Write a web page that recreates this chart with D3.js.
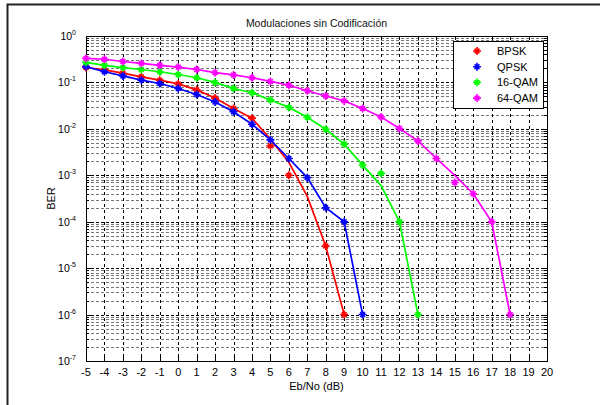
<!DOCTYPE html>
<html>
<head>
<meta charset="utf-8">
<script src="https://cdn.jsdelivr.net/npm/d3@7/dist/d3.min.js"></script>
<style>
  body { margin: 0; background: #fff; }
  svg { display: block; font-family: "Liberation Sans", Arial, Helvetica, sans-serif; }
</style>
</head>
<body>
<svg id="chart" width="600" height="405"></svg>
<script>
// Eb/No (dB) points and BER
const xBpsk = [-5, -4, -3, -2, -1, 0, 1, 2, 3, 4, 5, 6, 7, 8, 9];
const berBpskLine = [0.21, 0.186, 0.158, 0.132, 0.112, 0.093, 0.069, 0.046, 0.0275, 0.017, 0.006, 0.0019, 0.00035, 0.00003, 0.000001];
const xBpskSim = [-5, -4, -3, -2, -1, 0, 1, 2, 3, 4, 5, 6, 8, 9];
const berBpskSim = [0.21, 0.186, 0.158, 0.132, 0.112, 0.093, 0.069, 0.046, 0.0275, 0.017, 0.0043, 0.001, 0.00003, 0.000001];

const xQpsk = [-5, -4, -3, -2, -1, 0, 1, 2, 3, 4, 5, 6, 7, 8, 9, 10];
const berQpskLine = [0.219, 0.17, 0.138, 0.112, 0.095, 0.074, 0.055, 0.038, 0.0234, 0.0126, 0.0058, 0.0023, 0.00089, 0.0002, 0.0001, 0.000001];
const berQpskSim = [0.219, 0.17, 0.138, 0.112, 0.095, 0.074, 0.055, 0.038, 0.0234, 0.0126, 0.0058, 0.0023, 0.00089, 0.0002, 0.0001, 0.000001];

const xQam16 = [-5, -4, -3, -2, -1, 0, 1, 2, 3, 4, 5, 6, 7, 8, 9, 10, 11, 12, 13];
const berQam16Line = [0.27, 0.234, 0.209, 0.19, 0.17, 0.148, 0.126, 0.1, 0.074, 0.06, 0.042, 0.029, 0.0178, 0.0098, 0.0047, 0.00166, 0.0006, 0.0001, 0.000001];
const berQam16Sim = [0.27, 0.234, 0.209, 0.19, 0.17, 0.148, 0.126, 0.1, 0.074, 0.06, 0.042, 0.029, 0.0178, 0.0098, 0.0047, 0.00166, 0.0011, 0.0001, 0.000001];

const xQam64 = [-5, -4, -3, -2, -1, 0, 1, 2, 3, 4, 5, 6, 7, 8, 9, 10, 11, 12, 13, 14, 15, 16, 17, 18];
const berQam64Line = [0.33, 0.316, 0.282, 0.257, 0.234, 0.214, 0.19, 0.162, 0.145, 0.126, 0.105, 0.087, 0.066, 0.051, 0.04, 0.0275, 0.018, 0.0102, 0.0055, 0.0023, 0.001, 0.0004, 0.0001, 0.000001];
const berQam64Sim = [0.33, 0.316, 0.282, 0.257, 0.234, 0.214, 0.19, 0.162, 0.145, 0.126, 0.105, 0.087, 0.066, 0.051, 0.04, 0.0275, 0.018, 0.0102, 0.0055, 0.0023, 0.0007, 0.0004, 0.0001, 0.000001];

const seriesNames = ['BPSK', 'QPSK', '16-QAM', '64-QAM'];
const seriesColors = ['#ff0000', '#0000ff', '#00ff00', '#ff00ff'];

const xTicks = [-5, -4, -3, -2, -1, 0, 1, 2, 3, 4, 5, 6, 7, 8, 9, 10, 11, 12, 13, 14, 15, 16, 17, 18, 19, 20];
const yExponents = [0, -1, -2, -3, -4, -5, -6, -7];

const series = [
  { line: [xBpsk, berBpskLine], sim: [xBpskSim, berBpskSim] },
  { line: [xQpsk, berQpskLine], sim: [xQpsk, berQpskSim] },
  { line: [xQam16, berQam16Line], sim: [xQam16, berQam16Sim] },
  { line: [xQam64, berQam64Line], sim: [xQam64, berQam64Sim] },
];

const svg = d3.select('#chart');
const plotLeft = 86, plotRight = 547, plotTop = 36, plotBottom = 361;

const x = d3.scaleLinear().domain([-5, 20]).range([plotLeft, plotRight]);
const y = d3.scaleLog().domain([1e-7, 1]).range([plotBottom, plotTop]);

const isDecade = (v) => yExponents.some((e) => Math.abs(v - Math.pow(10, e)) < 1e-12);

// figure frame (only top and left edges visible)
svg.append('path')
  .attr('d', 'M7.5,405 V4.5 H600')
  .attr('fill', 'none')
  .attr('stroke', '#222')
  .attr('stroke-width', 2);

// grid
const grid = svg.append('g');
grid.selectAll('line.minor')
  .data(y.ticks().filter((v) => !isDecade(v)))
  .enter()
  .append('line')
  .attr('x1', plotLeft).attr('x2', plotRight)
  .attr('y1', (d) => Math.round(y(d)) + 0.5)
  .attr('y2', (d) => Math.round(y(d)) + 0.5)
  .attr('stroke', '#777')
  .attr('stroke-dasharray', '3,2');
grid.selectAll('line.hmajor')
  .data(yExponents.slice(1, -1))
  .enter()
  .append('line')
  .attr('x1', plotLeft).attr('x2', plotRight)
  .attr('y1', (d) => Math.round(y(Math.pow(10, d))) + 0.5)
  .attr('y2', (d) => Math.round(y(Math.pow(10, d))) + 0.5)
  .attr('stroke', '#000')
  .attr('stroke-dasharray', '3,2');
grid.selectAll('line.v')
  .data(xTicks.slice(1, -1))
  .enter()
  .append('line')
  .attr('x1', (d) => Math.round(x(d)) + 0.5)
  .attr('x2', (d) => Math.round(x(d)) + 0.5)
  .attr('y1', plotTop).attr('y2', plotBottom)
  .attr('stroke', '#000')
  .attr('stroke-dasharray', '3,3');

// ticks inside the box on all sides
const ticks = svg.append('g').attr('stroke', '#000');
xTicks.forEach((t) => {
  const px = Math.round(x(t)) + 0.5;
  ticks.append('line').attr('x1', px).attr('x2', px).attr('y1', plotBottom).attr('y2', plotBottom - 4);
  ticks.append('line').attr('x1', px).attr('x2', px).attr('y1', plotTop).attr('y2', plotTop + 4);
});
y.ticks().forEach((t) => {
  const len = isDecade(t) ? 5 : 3;
  const py = Math.round(y(t)) + 0.5;
  ticks.append('line').attr('x1', plotLeft).attr('x2', plotLeft + len).attr('y1', py).attr('y2', py);
  ticks.append('line').attr('x1', plotRight).attr('x2', plotRight - len).attr('y1', py).attr('y2', py);
});

// axes box
svg.append('rect')
  .attr('x', plotLeft + 0.5).attr('y', plotTop + 0.5)
  .attr('width', plotRight - plotLeft).attr('height', plotBottom - plotTop)
  .attr('fill', 'none')
  .attr('stroke', '#000');

// tick labels
svg.append('g')
  .selectAll('text')
  .data(xTicks)
  .enter()
  .append('text')
  .attr('x', (d) => x(d))
  .attr('y', 376)
  .attr('text-anchor', 'middle')
  .attr('font-size', 11)
  .attr('fill', '#000')
  .text((d) => d);

const yLab = svg.append('g')
  .selectAll('text')
  .data(yExponents)
  .enter()
  .append('text')
  .attr('x', 76)
  .attr('y', (d) => y(Math.pow(10, d)) + 4)
  .attr('text-anchor', 'end')
  .attr('font-size', 10.5)
  .attr('fill', '#000');
yLab.append('tspan').text('10');
yLab.append('tspan')
  .attr('dy', -5)
  .attr('font-size', 7)
  .text((d) => d);

// titles
svg.append('text')
  .attr('x', (plotLeft + plotRight) / 2)
  .attr('y', 27)
  .attr('text-anchor', 'middle')
  .attr('font-size', 10.5)
  .attr('fill', '#111')
  .text('Modulaciones sin Codificación');
svg.append('text')
  .attr('x', (plotLeft + plotRight) / 2)
  .attr('y', 390)
  .attr('text-anchor', 'middle')
  .attr('font-size', 11)
  .attr('fill', '#000')
  .text('Eb/No (dB)');
svg.append('text')
  .attr('transform', `translate(55, ${(plotTop + plotBottom) / 2}) rotate(-90)`)
  .attr('text-anchor', 'middle')
  .attr('font-size', 11)
  .attr('fill', '#000')
  .text('BER');

// asterisk marker
const r = 4;
const star = `M${-r},0H${r}M0,${-r}V${r}M${-0.6 * r},${-0.6 * r}L${0.6 * r},${0.6 * r}M${-0.6 * r},${0.6 * r}L${0.6 * r},${-0.6 * r}`;

const line = d3.line()
  .x((d) => x(d[0]))
  .y((d) => y(d[1]));

series.forEach((s, i) => {
  const lineData = s.line[0].map((v, j) => [v, s.line[1][j]]);
  const simData = s.sim[0].map((v, j) => [v, s.sim[1][j]]);
  svg.append('path')
    .datum(lineData)
    .attr('d', line)
    .attr('fill', 'none')
    .attr('stroke', seriesColors[i])
    .attr('stroke-width', 1.7);
  svg.append('g')
    .selectAll('path')
    .data(simData)
    .enter()
    .append('path')
    .attr('transform', (d) => `translate(${x(d[0])},${y(d[1])})`)
    .attr('d', star)
    .attr('stroke', seriesColors[i])
    .attr('stroke-width', 1.6);
});

// legend
const legend = svg.append('g');
legend.append('rect')
  .attr('x', 453.5).attr('y', 41.5)
  .attr('width', 90).attr('height', 67)
  .attr('fill', '#fff')
  .attr('stroke', '#000');
const items = legend.selectAll('g.item')
  .data(seriesNames)
  .enter()
  .append('g')
  .attr('transform', (d, i) => `translate(0, ${51 + i * 15.7})`);
items.append('path')
  .attr('transform', 'translate(477, 0)')
  .attr('d', star)
  .attr('stroke', (d, i) => seriesColors[i])
  .attr('stroke-width', 1.6);
items.append('text')
  .attr('x', 497)
  .attr('y', 4)
  .attr('font-size', 11)
  .attr('fill', '#000')
  .text((d) => d);
</script>
</body>
</html>
